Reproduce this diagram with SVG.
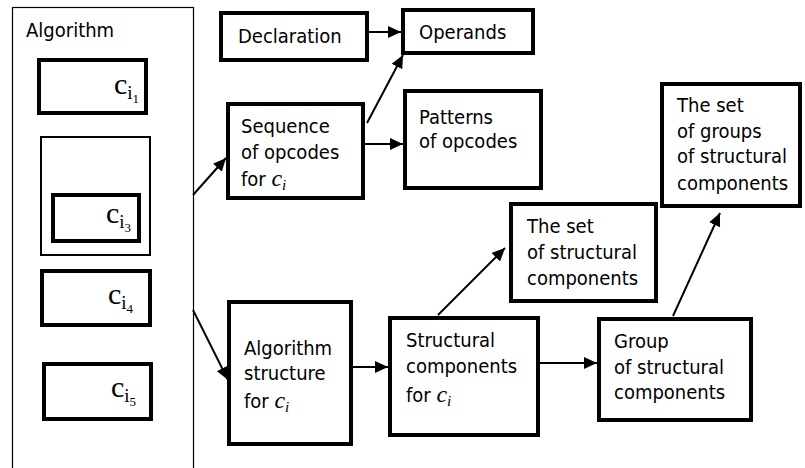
<svg xmlns="http://www.w3.org/2000/svg" width="805" height="468" viewBox="0 0 805 468">
<style>
.b{fill:#fff;stroke:#000;stroke-width:4}
.t{font-family:"DejaVu Sans Condensed","DejaVu Sans",sans-serif;font-size:20px;fill:#000}
.s{font-family:"Liberation Serif",serif;fill:#000}
.c{stroke:#000;stroke-width:2;fill:none;marker-end:url(#ah)}
</style>
<defs>
<marker id="ah" markerUnits="userSpaceOnUse" markerWidth="14" markerHeight="12" refX="13" refY="6" orient="auto">
<path d="M0,0 L13,6 L0,12 z" fill="#000"/>
</marker>
</defs>
<rect width="805" height="468" fill="#fff"/>
<g id="algorithm">
<rect x="12.5" y="7.5" width="181" height="470" fill="#fff" stroke="#000" stroke-width="1.2"/>
<text class="t" x="26" y="37">Algorithm</text>
</g>
<g id="ci1">
<rect class="b" x="39" y="60" width="107" height="53"/>
<text class="s" x="114" y="94" font-size="30">c<tspan font-size="19" dy="5">i</tspan><tspan font-size="13" dy="4">1</tspan></text>
</g>
<g id="ci2">
<rect x="41" y="137" width="109" height="118" fill="#fff" stroke="#000" stroke-width="2"/>
</g>
<g id="ci3">
<rect class="b" x="53" y="195" width="86" height="46"/>
<text class="s" x="106" y="223" font-size="30">c<tspan font-size="19" dy="5">i</tspan><tspan font-size="13" dy="4">3</tspan></text>
</g>
<g id="ci4">
<rect class="b" x="42" y="271" width="108" height="54"/>
<text class="s" x="108" y="304" font-size="30">c<tspan font-size="19" dy="5">i</tspan><tspan font-size="13" dy="4">4</tspan></text>
</g>
<g id="ci5">
<rect class="b" x="44" y="364" width="107" height="55"/>
<text class="s" x="111" y="397" font-size="30">c<tspan font-size="19" dy="5">i</tspan><tspan font-size="13" dy="4">5</tspan></text>
</g>
<g id="declaration">
<rect class="b" x="221" y="13" width="146" height="47"/>
<text class="t" x="238" y="43">Declaration</text>
</g>
<g id="operands">
<rect class="b" x="403" y="10" width="130" height="43"/>
<text class="t" x="419" y="39">Operands</text>
</g>
<g id="sequence">
<rect class="b" x="228" y="104" width="135" height="94"/>
<text class="t" x="241" y="133">Sequence</text>
<text class="t" x="241" y="159">of opcodes</text>
<text class="t" x="241" y="186">for <tspan class="s" font-style="italic" font-size="24">c</tspan><tspan class="s" font-style="italic" font-size="15" dy="4">i</tspan></text>
</g>
<g id="patterns">
<rect class="b" x="405" y="91" width="136" height="97"/>
<text class="t" x="419" y="124">Patterns</text>
<text class="t" x="419" y="148">of opcodes</text>
</g>
<g id="algstructure">
<rect class="b" x="229" y="302" width="122" height="142"/>
<text class="t" x="244" y="355">Algorithm</text>
<text class="t" x="244" y="380">structure</text>
<text class="t" x="244" y="408">for <tspan class="s" font-style="italic" font-size="24">c</tspan><tspan class="s" font-style="italic" font-size="15" dy="4">i</tspan></text>
</g>
<g id="structural">
<rect class="b" x="390" y="318" width="148" height="117"/>
<text class="t" x="406" y="347">Structural</text>
<text class="t" x="406" y="373">components</text>
<text class="t" x="406" y="402">for <tspan class="s" font-style="italic" font-size="24">c</tspan><tspan class="s" font-style="italic" font-size="15" dy="4">i</tspan></text>
</g>
<g id="theset">
<rect class="b" x="511" y="204" width="145" height="97"/>
<text class="t" x="527" y="233">The set</text>
<text class="t" x="527" y="259">of structural</text>
<text class="t" x="527" y="285">components</text>
</g>
<g id="setofgroups">
<rect class="b" x="662" y="84" width="138" height="122"/>
<text class="t" x="677" y="112">The set</text>
<text class="t" x="677" y="138">of groups</text>
<text class="t" x="677" y="163">of structural</text>
<text class="t" x="677" y="190">components</text>
</g>
<g id="group">
<rect class="b" x="599" y="319" width="152" height="101"/>
<text class="t" x="614" y="348">Group</text>
<text class="t" x="614" y="374">of structural</text>
<text class="t" x="614" y="399">components</text>
</g>
<g id="connectors">
<line class="c" x1="369" y1="32" x2="401" y2="32"/>
<line class="c" x1="367" y1="123" x2="403" y2="55"/>
<line class="c" x1="365" y1="144" x2="403" y2="144"/>
<line class="c" x1="193" y1="195" x2="226" y2="158"/>
<line class="c" x1="193" y1="310" x2="228" y2="380"/>
<line class="c" x1="353" y1="367" x2="388" y2="367"/>
<line class="c" x1="438" y1="315" x2="505" y2="248"/>
<line class="c" x1="540" y1="363" x2="597" y2="363"/>
<line class="c" x1="673" y1="316" x2="720" y2="213"/>
</g>
</svg>
